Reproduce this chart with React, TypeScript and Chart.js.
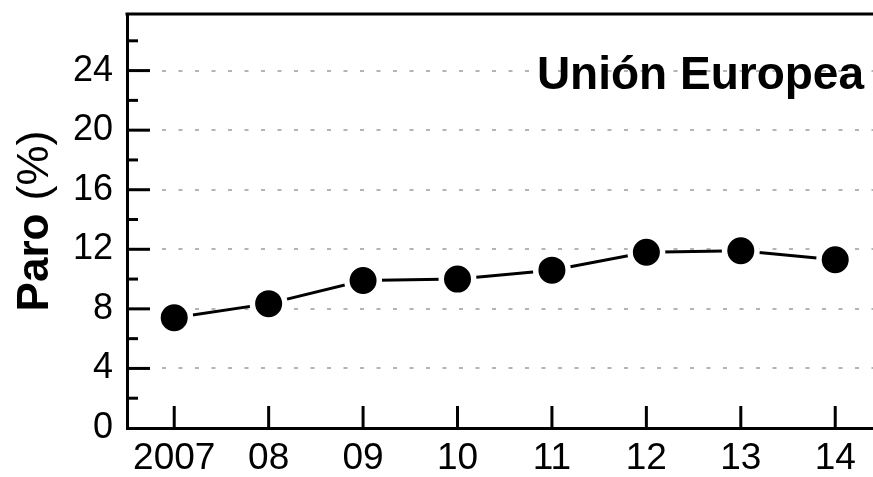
import React, { useEffect, useRef } from "react";
import { Chart, registerables } from "chart.js";

Chart.register(...registerables);

const years = [2007, 2008, 2009, 2010, 2011, 2012, 2013, 2014];
const yearLabels = ["2007", "08", "09", "10", "11", "12", "13", "14"];
const paro = [7.4, 8.35, 9.9, 10.0, 10.6, 11.8, 11.9, 11.3];
const yMajorTicks = [0, 4, 8, 12, 16, 20, 24];
const yMinorTicks = [2, 6, 10, 14, 18, 22, 26];
const chartTitle = "Unión Europea";
const yTitleBold = "Paro";
const yTitleRest = "(%)";

const FONT = "'Liberation Sans', Arial, Helvetica, sans-serif";

const decorPlugin = {
  id: "decor",
  afterDraw(chart: any) {
    const { ctx, chartArea: a, scales } = chart;
    const xs = scales.x;
    const ys = scales.y;
    ctx.save();
    ctx.strokeStyle = "#000";
    ctx.lineWidth = 3;
    ctx.lineCap = "butt";
    const line = (x1: number, y1: number, x2: number, y2: number) => {
      ctx.beginPath();
      ctx.moveTo(x1, y1);
      ctx.lineTo(x2, y2);
      ctx.stroke();
    };
    // top frame line
    line(a.left - 1.5, a.top, a.right, a.top);
    // y ticks (inside)
    for (const v of yMajorTicks) {
      if (v === 0) continue;
      const py = ys.getPixelForValue(v);
      line(a.left, py, a.left + 23, py);
    }
    for (const v of yMinorTicks) {
      const py = ys.getPixelForValue(v);
      line(a.left, py, a.left + 11, py);
    }
    // x ticks (inside)
    for (const v of years) {
      const px = xs.getPixelForValue(v);
      line(px, a.bottom, px, a.bottom - 22);
    }
    // chart title
    ctx.fillStyle = "#000";
    ctx.font = `bold 46px ${FONT}`;
    ctx.textAlign = "right";
    ctx.textBaseline = "middle";
    ctx.fillText(chartTitle, a.right - 9, a.top + 62);
    // y axis title (mixed weights)
    const boldFont = `bold 44px ${FONT}`;
    const normFont = `45px ${FONT}`;
    const gap = 13;
    ctx.font = boldFont;
    const w1 = ctx.measureText(yTitleBold).width;
    ctx.font = normFont;
    const w2 = ctx.measureText(yTitleRest).width;
    const total = w1 + gap + w2;
    ctx.translate(48, (a.top + a.bottom) / 2);
    ctx.rotate(-Math.PI / 2);
    ctx.textAlign = "left";
    ctx.textBaseline = "alphabetic";
    ctx.font = boldFont;
    ctx.fillText(yTitleBold, -total / 2, 0);
    ctx.font = normFont;
    ctx.fillText(yTitleRest, -total / 2 + w1 + gap, 0);
    ctx.restore();
  },
};

export default function App() {
  const ref = useRef<HTMLCanvasElement>(null);
  useEffect(() => {
    const chart = new Chart(ref.current as HTMLCanvasElement, {
      type: "line",
      data: {
        datasets: [
          {
            data: years.map((y, i) => ({ x: y, y: paro[i] })),
            borderColor: "#000",
            borderWidth: 3,
            pointRadius: 16.25,
            pointBorderWidth: 5.5,
            pointBorderColor: "#fff",
            pointBackgroundColor: "#000",
            tension: 0,
            fill: false,
          },
        ],
      },
      options: {
        responsive: false,
        devicePixelRatio: 1,
        animation: false,
        events: [],
        layout: { autoPadding: false, padding: { top: 14, left: 0, right: 0, bottom: 0 } },
        plugins: {
          legend: { display: false },
          tooltip: { enabled: false },
          title: { display: false },
        },
        scales: {
          x: {
            type: "linear",
            min: 2006.5,
            max: 2014.4,
            afterBuildTicks: (s: any) => {
              s.ticks = years.map((v) => ({ value: v }));
            },
            afterFit: (s: any) => {
              s.height = 49;
              s.paddingLeft = 0;
              s.paddingRight = 0;
              s.paddingTop = 0;
              s.paddingBottom = 0;
            },
            grid: { display: true, color: "rgba(0,0,0,0)", drawTicks: false },
            border: { display: true, color: "#000", width: 3 },
            ticks: {
              autoSkip: false,
              maxRotation: 0,
              padding: 9,
              color: "#000",
              font: { family: FONT, size: 37 },
              callback: (v: any) => {
                const i = years.indexOf(Number(v));
                return i >= 0 ? yearLabels[i] : "";
              },
            },
          },
          y: {
            type: "linear",
            min: 0,
            max: 27.8,
            afterBuildTicks: (s: any) => {
              s.ticks = yMajorTicks.map((v) => ({ value: v }));
            },
            afterFit: (s: any) => {
              s.width = 127;
              s.paddingLeft = 0;
              s.paddingRight = 0;
              s.paddingTop = 0;
              s.paddingBottom = 0;
            },
            grid: {
              display: true,
              drawTicks: false,
              lineWidth: 2,
              color: (c: any) => (c.tick && c.tick.value === 0 ? "rgba(0,0,0,0)" : "#b4b4b4"),
            },
            border: { display: true, color: "#000", width: 3, dash: [4, 12.5], dashOffset: 0 },
            ticks: {
              padding: 14,
              color: "#000",
              font: { family: FONT, size: 36 },
              callback: (v: any) => String(v),
            },
          },
        },
      },
      plugins: [decorPlugin],
    } as any);
    return () => chart.destroy();
  }, []);
  return (
    <div style={{ position: "absolute", left: 0, top: 0, width: 873, height: 477, background: "#fff" }}>
      <canvas ref={ref} width={873} height={477} style={{ display: "block", width: 873, height: 477 }} />
    </div>
  );
}
